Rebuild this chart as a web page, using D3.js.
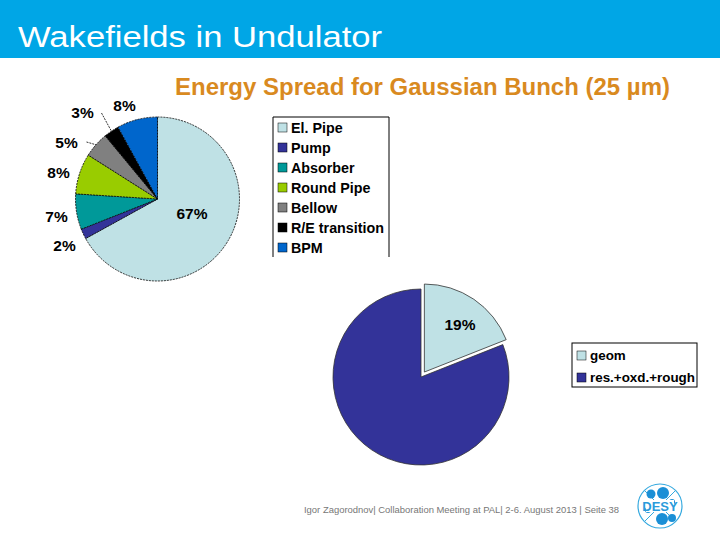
<!DOCTYPE html>
<html><head><meta charset="utf-8">
<script src="https://cdn.jsdelivr.net/npm/d3@7"></script>
<style>body{margin:0;background:#fff}svg{display:block}text{font-family:"Liberation Sans",Arial,sans-serif}</style>
</head><body>
<svg id="c" width="720" height="540"></svg>
<script>
const pageTitle = "Wakefields in Undulator";
const chartTitle = "Energy Spread for Gaussian Bunch (25 µm)";
const categories1 = ["El. Pipe","Pump","Absorber","Round Pipe","Bellow","R/E transition","BPM"];
const values1 = [67,2,7,8,5,3,8];
const colors1 = ["#BFE1E5","#333399","#009999","#99CC00","#808080","#000000","#0066CC"];
const categories2 = ["geom","res.+oxd.+rough"];
const values2 = [19,81];
const colors2 = ["#BFE1E5","#333399"];
const footer = "Igor Zagorodnov| Collaboration Meeting at PAL| 2-6. August 2013  |  Seite 38";

const svg = d3.select("#c");
// header
svg.append("rect").attr("x",0).attr("y",0).attr("width",720).attr("height",58).attr("fill","#00A6E6");
svg.append("text").attr("x",18).attr("y",47).attr("fill","#fff").attr("font-size",30)
  .attr("textLength",364).attr("lengthAdjust","spacingAndGlyphs").text(pageTitle);
svg.append("text").attr("x",175).attr("y",95).attr("fill","#D98A1F").attr("font-size",23.5).attr("font-weight","bold")
  .attr("textLength",495).attr("lengthAdjust","spacingAndGlyphs").text(chartTitle);

// pie 1
const pie = d3.pie().sort(null).value(d=>d);
const arcs1 = pie(values1);
const r1 = 82, c1 = [157.5,199];
const arc1 = d3.arc().innerRadius(0).outerRadius(r1);
const g1 = svg.append("g").attr("transform",`translate(${c1})`);
g1.selectAll("path").data(arcs1).join("path").attr("d",arc1)
  .attr("fill",(d,i)=>colors1[i]).attr("stroke","#000").attr("stroke-width",0.8).attr("stroke-dasharray","2,1");
// labels
const lab1 = [[34.5,20],[-93,52],[-101,23],[-99,-21],[-91,-51],[-75,-81],[-33,-88]];
g1.selectAll("text.l").data(arcs1).join("text").attr("class","l")
  .attr("x",(d,i)=>lab1[i][0]).attr("y",(d,i)=>lab1[i][1])
  .attr("text-anchor","middle").attr("font-size",15.5).attr("font-weight","bold")
  .text(d=>d3.format(".0f")(d.data)+"%");
// leader lines
function leader(i, x1,y1){
  const a = (arcs1[i].startAngle+arcs1[i].endAngle)/2;
  const px = Math.sin(a)*r1, py = -Math.cos(a)*r1;
  g1.append("line").attr("x1",x1).attr("y1",y1).attr("x2",px).attr("y2",py)
    .attr("stroke","#000").attr("stroke-width",0.8).attr("stroke-dasharray","2,1");
}
leader(5,-56,-86);
leader(4,-71,-57);

// legend 1
const lg1 = svg.append("g").attr("transform","translate(273,117)");
lg1.append("path").attr("d","M0,140 V0 H116 V140").attr("fill","none").attr("stroke","#000").attr("stroke-width",1);
categories1.forEach((c,i)=>{
  lg1.append("rect").attr("x",5).attr("y",6+i*20).attr("width",9).attr("height",9).attr("fill",colors1[i]).attr("stroke","#000").attr("stroke-width",0.5);
  lg1.append("text").attr("x",18).attr("y",16+i*20).attr("font-size",14.3).attr("font-weight","bold").text(c);
});

// pie 2
const arcs2 = pie(values2);
const r2 = 88, c2 = [421,377];
const arc2 = d3.arc().innerRadius(0).outerRadius(r2);
const g2 = svg.append("g").attr("transform",`translate(${c2})`);
g2.selectAll("path").data(arcs2).join("path")
  .attr("transform",(d,i)=>{ if(i!==0) return null; const a=(d.startAngle+d.endAngle)/2; return `translate(${Math.sin(a)*6},${-Math.cos(a)*6})`;})
  .attr("d",arc2).attr("fill",(d,i)=>colors2[i]).attr("stroke","#333").attr("stroke-width",0.8);
{
  const d = arcs2[0]; const a=(d.startAngle+d.endAngle)/2;
  g2.append("text").attr("x",Math.sin(a)*55+8).attr("y",-Math.cos(a)*55-2).attr("text-anchor","middle")
    .attr("font-size",15.5).attr("font-weight","bold").text(d3.format(".0f")(d.data)+"%");
}
// legend 2
const lg2 = svg.append("g").attr("transform","translate(572,343)");
lg2.append("rect").attr("width",125).attr("height",44).attr("fill","#fff").attr("stroke","#000").attr("stroke-width",1);
categories2.forEach((c,i)=>{
  lg2.append("rect").attr("x",5).attr("y",8+i*22).attr("width",9).attr("height",9).attr("fill",colors2[i]).attr("stroke","#000").attr("stroke-width",0.5);
  lg2.append("text").attr("x",18).attr("y",17+i*22).attr("font-size",13.4).attr("font-weight","bold").text(c);
});

// footer
svg.append("text").attr("x",304).attr("y",513).attr("fill","#777").attr("font-size",9.5)
  .attr("textLength",315).attr("lengthAdjust","spacingAndGlyphs").text(footer);
// DESY logo
const lg = svg.append("g").attr("transform","translate(660,506)");
lg.append("circle").attr("r",22).attr("fill","none").attr("stroke","#35A9DF").attr("stroke-width",1.2);
lg.append("line").attr("x1",-15).attr("y1",15).attr("x2",15).attr("y2",-15).attr("stroke","#35A9DF").attr("stroke-width",1);
lg.append("line").attr("x1",-15).attr("y1",-15).attr("x2",15).attr("y2",15).attr("stroke","#35A9DF").attr("stroke-width",1);
[[-9,-12,4.5],[3,-13,6],[12,-4,3],[-12,4,3],[2,13,6],[12,12,4]].forEach(p=>lg.append("circle").attr("cx",p[0]).attr("cy",p[1]).attr("r",p[2]).attr("fill","#1A8FD6"));
lg.append("rect").attr("x",-14).attr("y",-6).attr("width",28).attr("height",12).attr("fill","#fff");
lg.append("text").attr("x",0).attr("y",5).attr("text-anchor","middle").attr("font-size",13).attr("font-weight","bold").attr("fill","#2A9BDB").text("DESY");
</script>
</body></html>
